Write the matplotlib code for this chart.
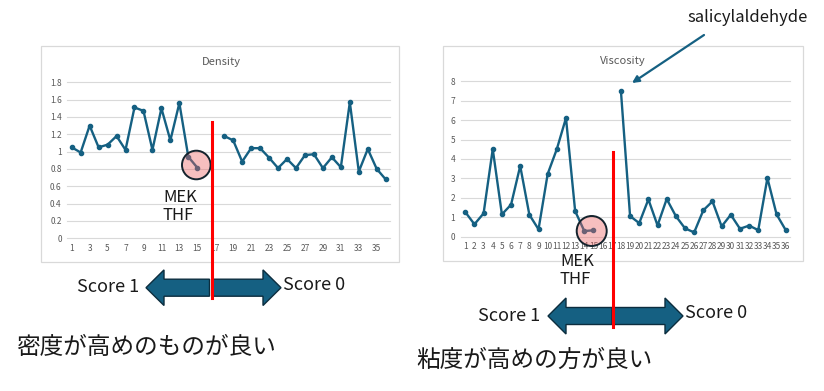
import numpy as np
import matplotlib
matplotlib.use("Agg")
import matplotlib.pyplot as plt
from matplotlib.patches import Rectangle, Circle, Polygon

plt.rcParams['font.family'] = ['Noto Sans CJK JP', 'DejaVu Sans']

# ---------------- data ----------------
idx = np.arange(1, 37)
density = [1.05, 0.99, 1.30, 1.05, 1.08, 1.18, 1.02, 1.51, 1.47, 1.02,
           1.50, 1.13, 1.56, 0.94, 0.815, np.nan, np.nan, 1.18, 1.13, 0.885,
           1.04, 1.04, 0.93, 0.81, 0.915, 0.81, 0.96, 0.97, 0.81, 0.935,
           0.82, 1.57, 0.77, 1.03, 0.80, 0.68]
viscosity = [1.27, 0.64, 1.20, 4.51, 1.15, 1.65, 3.64, 1.13, 0.38, 3.23,
             4.51, 6.11, 1.32, 0.29, 0.33, np.nan, np.nan, 7.50, 1.06, 0.70,
             1.92, 0.58, 1.94, 1.06, 0.43, 0.22, 1.36, 1.82, 0.53, 1.13,
             0.41, 0.57, 0.34, 3.02, 1.15, 0.34]
density_yticks = [0, 0.2, 0.4, 0.6, 0.8, 1.0, 1.2, 1.4, 1.6, 1.8]
density_ylabels = ['0', '0.2', '0.4', '0.6', '0.8', '1', '1.2', '1.4', '1.6', '1.8']
density_xticks = list(range(1, 37, 2))
viscosity_yticks = [0, 1, 2, 3, 4, 5, 6, 7, 8]
viscosity_xticks = list(range(1, 37))

LINE = '#156082'
GRAY = '#595959'
GRID = '#d9d9d9'

W, H = 824, 391
fig = plt.figure(figsize=(W / 100, H / 100), dpi=100)


def rect(x0, x1, ytop, ybot):
    return [x0 / W, 1 - ybot / H, (x1 - x0) / W, (ybot - ytop) / H]


def style(ax, yticks, ylabels, xticks, ylim):
    ax.set_xlim(0.5, 36.5)
    ax.set_ylim(*ylim)
    for s in ax.spines.values():
        s.set_visible(False)
    ax.set_yticks(yticks)
    ax.set_yticklabels(ylabels)
    ax.set_xticks(xticks)
    ax.set_xticklabels([str(t) for t in xticks])
    ax.tick_params(length=0, labelsize=6, labelcolor=GRAY, pad=4)
    for y in yticks:
        ax.axhline(y, color=GRID, lw=0.8, zorder=0, clip_on=False)
    ax.set_facecolor('none')


# Density chart
ax1 = fig.add_axes(rect(67.2, 390.2, 82.3, 238.3))
ax1.plot(idx, density, color=LINE, lw=1.7, marker='o', ms=3, zorder=3)
style(ax1, density_yticks, density_ylabels, density_xticks, (0, 1.8))
fig.text(221.7 / W, 1 - 61.7 / H, 'Density', ha='center', va='center',
         fontsize=8, color=GRAY)

# Viscosity chart
ax2 = fig.add_axes(rect(460.7, 790.3, 81.3, 236.7))
ax2.plot(idx, viscosity, color=LINE, lw=1.7, marker='o', ms=3, zorder=3)
style(ax2, viscosity_yticks, [str(v) for v in viscosity_yticks],
      viscosity_xticks, (0, 8))
fig.text(622.3 / W, 1 - 60.7 / H, 'Viscosity', ha='center', va='center',
         fontsize=8, color=GRAY)

# overlay in pixel coordinates
ov = fig.add_axes([0, 0, 1, 1], zorder=10)
ov.set_xlim(0, W)
ov.set_ylim(H, 0)
ov.axis('off')
ov.set_facecolor('none')

# chart frames
ov.add_patch(Rectangle((41, 46), 358, 216, fill=False, ec=GRID, lw=0.9))
ov.add_patch(Rectangle((443, 46), 360, 215, fill=False, ec=GRID, lw=0.9))

# circles
for cx, cy, r in [(196.3, 165, 14.3), (591.7, 231, 15)]:
    ov.add_patch(Circle((cx, cy), r, fc=(237 / 255, 97 / 255, 97 / 255, 0.4),
                        ec='#14232d', lw=1.4))

# MEK / THF
for x, y1, y2 in [(163, 197, 215), (560, 261, 280)]:
    ov.text(x, y1, 'MEK', fontsize=12, color='#1a1a1a', ha='left', va='center')
    ov.text(x, y2, 'THF', fontsize=12, color='#1a1a1a', ha='left', va='center')

# red lines
ov.plot([212.3, 212.3], [122, 298], color='#ff0000', lw=2.2)
ov.plot([613, 613], [151.7, 326.7], color='#ff0000', lw=2.2)


def double_arrow(ltip, lhead, mid_l, mid_r, rhead, rtip, cy, hh, sh):
    left = [(ltip, cy), (lhead, cy - hh), (lhead, cy - sh), (mid_l, cy - sh),
            (mid_l, cy + sh), (lhead, cy + sh), (lhead, cy + hh)]
    right = [(rtip, cy), (rhead, cy - hh), (rhead, cy - sh), (mid_r, cy - sh),
             (mid_r, cy + sh), (rhead, cy + sh), (rhead, cy + hh)]
    for p in (left, right):
        ov.add_patch(Polygon(p, closed=True, fc=LINE, ec='#0c2d3e', lw=1.0,
                             zorder=1))


double_arrow(146, 164, 209.5, 212, 263, 281, 287.7, 17.8, 8.5)
double_arrow(548, 566, 612, 614, 665, 683, 316, 18, 8.5)

ov.text(108, 287.5, 'Score 1', fontsize=13, color='#1a1a1a', ha='center', va='center')
ov.text(314, 285.5, 'Score 0', fontsize=13, color='#1a1a1a', ha='center', va='center')
ov.text(509, 316, 'Score 1', fontsize=13, color='#1a1a1a', ha='center', va='center')
ov.text(716, 313.5, 'Score 0', fontsize=13, color='#1a1a1a', ha='center', va='center')

ov.text(16, 347, '密度が高めのものが良い', fontsize=17, color='#1a1a1a',
        ha='left', va='center')
ov.text(416, 360, '粘度が高めの方が良い', fontsize=17, color='#1a1a1a',
        ha='left', va='center')

# salicylaldehyde annotation
ov.text(748, 17, 'salicylaldehyde', fontsize=12, color='#1a1a1a',
        ha='center', va='center')
ov.annotate('', xy=(632, 83), xytext=(704, 35),
            arrowprops=dict(arrowstyle='-|>', color=LINE, lw=1.6,
                            mutation_scale=10, shrinkA=0, shrinkB=0))

fig.savefig('out.png', dpi=100)
